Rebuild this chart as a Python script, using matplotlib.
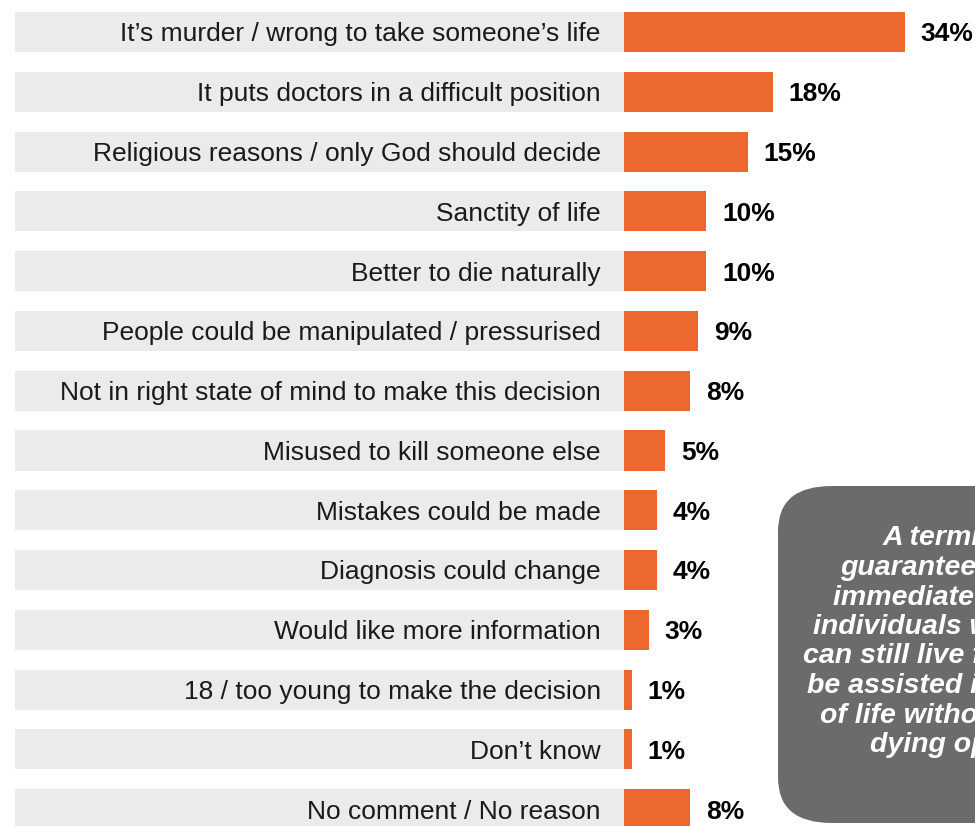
import matplotlib.pyplot as plt
from matplotlib.patches import FancyBboxPatch

plt.rcParams['font.family'] = ['Liberation Sans', 'DejaVu Sans']

reasons = [
    "It\u2019s murder / wrong to take someone\u2019s life",
    "It puts doctors in a difficult position",
    "Religious reasons / only God should decide",
    "Sanctity of life",
    "Better to die naturally",
    "People could be manipulated / pressurised",
    "Not in right state of mind to make this decision",
    "Misused to kill someone else",
    "Mistakes could be made",
    "Diagnosis could change",
    "Would like more information",
    "18 / too young to make the decision",
    "Don\u2019t know",
    "No comment / No reason",
]
pct = [34, 18, 15, 10, 10, 9, 8, 5, 4, 4, 3, 1, 1, 8]

note_lines = [
    "A terminal diagnosis is no",
    "guarantee of an",
    "immediate death, and",
    "individuals with a diagnosis",
    "can still live fulfilling lives and",
    "be assisted in the final stages",
    "of life without an assisted",
    "dying option",
]

orange = '#ec682e'
band = '#ebebeb'

fig = plt.figure(figsize=(9.75, 8.26), dpi=100)
ax = fig.add_axes([0, 0, 1, 1])
ax.set_xlim(-75.5, 42.5)
ax.set_ylim(13.28, -0.535)
ax.axis('off')

y = range(len(reasons))
# grey label bands, then the value bars
ax.barh(y, 73.7, left=-73.7, height=0.67, color=band)
ax.barh(y, pct, height=0.67, color=orange)

for i, (r, v) in enumerate(zip(reasons, pct)):
    ax.text(-2.8, i + 0.04, r, ha='right', va='center', fontsize=19, color='#1a1a1a')
    ax.text(v + 1.9, i + 0.04, f"{v}%", ha='left', va='center', fontsize=19,
            fontweight='bold', color='black')

# callout box on the right, running off the edge
box = FancyBboxPatch((778 / 975, 1 - 823 / 826), 0.5, (823 - 486) / 826,
                     boxstyle='round,pad=0,rounding_size=0.055',
                     transform=fig.transFigure, facecolor='#6b6b6b',
                     edgecolor='none', zorder=3)
fig.patches.append(box)

starts = [883, 840, 833, 813, 803, 807, 820, 870]
for k, (line, sx) in enumerate(zip(note_lines, starts)):
    fig.text(sx / 975, 1 - (545 + 29.6 * k) / 826, line, ha='left',
             va='baseline', fontsize=20.5, fontweight='bold',
             fontstyle='italic', color='white', zorder=4)

fig.savefig('out.png', dpi=100)
